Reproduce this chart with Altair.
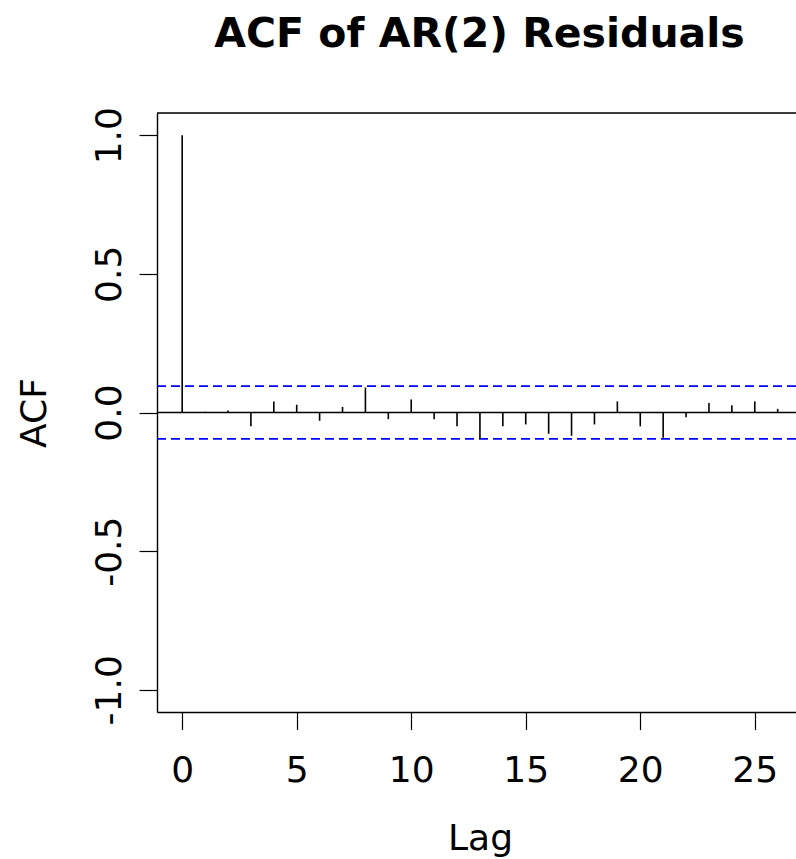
import altair as alt
import pandas as pd

# ---- data ----
lags = list(range(27))
acf_values = [1.0, 0.003, 0.007, -0.050, 0.040, 0.028, -0.030, 0.020, 0.090,
              -0.024, 0.047, -0.024, -0.050, -0.096, -0.050, -0.043, -0.077,
              -0.084, -0.043, 0.040, -0.050, -0.091, -0.017, 0.034, 0.026,
              0.040, 0.013]
conf_bound = 0.095
x_ticks = [0, 5, 10, 15, 20, 25]
y_ticks = [-1.0, -0.5, 0.0, 0.5, 1.0]

FONT = "DejaVu Sans"
W, H = 639, 599

bars_df = pd.DataFrame({"lag": lags, "acf": acf_values, "base": [0.0] * len(lags)})
ci_df = pd.DataFrame({"ci": [conf_bound, -conf_bound]})
zero_df = pd.DataFrame({"z": [0.0]})

x_scale = alt.Scale(domain=[-1.1, 26.8], nice=False, zero=False)
y_scale = alt.Scale(domain=[-1.08, 1.08], nice=False, zero=False)

x_axis = alt.Axis(
    values=x_ticks, grid=False, tickSize=17.6, tickWidth=1.2, tickColor="black",
    domainColor="black", domainWidth=1.4,
    labelFont=FONT, labelFontSize=36, labelColor="black",
    labelPadding=52, labelBaseline="alphabetic", labelFlush=False, labelOverlap=False,
    title="Lag", titleFont=FONT, titleFontSize=36, titleFontWeight="normal",
    titleColor="black", titleBaseline="alphabetic", titleAlign="center",
    titleX=323, titleY=137,
)
y_axis = alt.Axis(
    values=y_ticks, grid=False, tickSize=18, tickWidth=1.2, tickColor="black",
    domainColor="black", domainWidth=1.4,
    labelFont=FONT, labelFontSize=36, labelColor="black",
    labelAngle=270, labelAlign="center", labelBaseline="alphabetic",
    labelPadding=19, labelFlush=False, labelOverlap=False,
    labelExpr="datum.value < 0 ? '-' + format(-datum.value, '.1f') : format(datum.value, '.1f')",
    title="ACF", titleFont=FONT, titleFontSize=36, titleFontWeight="normal",
    titleColor="black", titleAngle=270, titleAlign="center", titleBaseline="alphabetic",
    titleX=-112, titleY=299.5,
)

bars = alt.Chart(bars_df).mark_rule(color="black", strokeWidth=1.6).encode(
    x=alt.X("lag:Q", scale=x_scale, axis=x_axis),
    y=alt.Y("acf:Q", scale=y_scale, axis=y_axis),
    y2="base:Q",
)

zero_line = alt.Chart(zero_df).mark_rule(color="black", strokeWidth=1.4).encode(
    y=alt.Y("z:Q", scale=y_scale),
)

ci_lines = alt.Chart(ci_df).mark_rule(color="#0000FF", strokeWidth=1.6, strokeDash=[9, 5]).encode(
    y=alt.Y("ci:Q", scale=y_scale),
)

top_border = alt.Chart(zero_df).mark_rule(color="black", strokeWidth=1.4).encode(
    x=alt.value(0), x2=alt.value(W), y=alt.value(0),
)

chart = alt.layer(top_border, zero_line, ci_lines, bars).properties(
    width=W, height=H,
    title=alt.TitleParams(
        "ACF of AR(2) Residuals", font=FONT, fontSize=41, fontWeight="bold",
        color="black", anchor="middle", frame="group", offset=19,
        baseline="alphabetic", dx=3,
    ),
    padding={"left": 157, "top": 113, "right": 0, "bottom": 147},
    autosize=alt.AutoSizeParams(type="none"),
).configure_view(stroke=None).configure(background="white")

chart.save("out.html", embed_options={"renderer": "svg", "actions": False})
